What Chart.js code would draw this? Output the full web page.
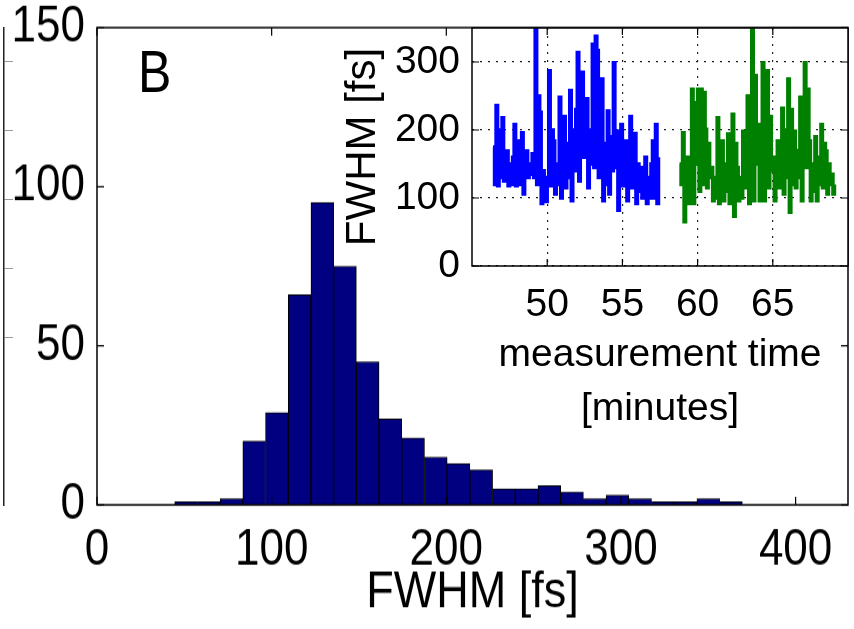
<!DOCTYPE html>
<html>
<head>
<meta charset="utf-8">
<script src="https://cdn.jsdelivr.net/npm/chart.js@4.4.1/dist/chart.umd.min.js"></script>
<style>
  html, body { margin: 0; padding: 0; background: #fff; }
  #wrap { position: relative; width: 854px; height: 629px; overflow: hidden; background: #fff; }
  canvas { position: absolute; }
  /* the main axes use a tall, narrow lettering: draw on a shorter canvas and stretch it */
  #hist { left: 0; top: 0; transform: scaleY(1.15); transform-origin: 0 0; }
  #panel-label { position: absolute; left: 138px; top: 42px; font-size: 50px; line-height: 50px;
    font-family: 'Liberation Sans', Arial, sans-serif; color: #000;
    transform: scaleY(1.2); transform-origin: 0 0; }
</style>
</head>
<body>
<div id="wrap">
  <canvas id="edge" width="24" height="629" style="left:0;top:0"></canvas>
  <canvas id="hist" width="854" height="547"></canvas>
  <canvas id="inset" width="524" height="450" style="left:330px;top:0"></canvas>
  <div id="panel-label">B</div>
</div>
<script>
// --- histogram (main panel) ---
const histCenters = [51, 64, 77, 90, 103, 116, 129, 142, 155, 168, 181, 194, 207,
                     220, 233, 246, 259, 272, 285, 298, 311, 324, 337, 350, 363];
const histCounts  = [1, 1, 2, 20, 29, 66, 95, 75, 45, 27, 21, 15, 13,
                     11, 5, 5, 6, 4, 2, 3, 2, 1, 1, 2, 1];
const histXTicks = [0, 100, 200, 300, 400];
const histYTicks = [0, 50, 100, 150];

// --- inset: FWHM vs measurement time ---
const sampleStep = 0.1;   // minutes between measurements
const blueStart = 46.4;
const blueFwhm = [175, 120, 236, 118, 200, 130, 218, 125, 160, 169, 118, 150, 120, 160,
  208, 118, 184, 120, 150, 196, 106, 140, 169, 130, 150, 135, 165, 130, 348, 120, 250,
  226, 92, 140, 130, 95, 120, 287, 118, 200, 184, 106, 150, 120, 248, 100, 160,
  220, 115, 180, 130, 258, 96, 200, 140, 230, 314, 125, 260, 285, 160, 220,
  246, 115, 200, 150, 326, 145, 338, 317, 130, 250, 275, 96, 180, 120,
  228, 106, 190, 140, 299, 145, 198, 82, 150, 208, 118, 170, 184, 96, 140,
  220, 115, 160, 195, 92, 150, 110, 145, 100, 130, 160, 92, 130, 100, 150,
  184, 100, 208, 92, 160];
const greenStart = 58.8;
const greenFwhm = [150, 120, 196, 65, 140, 160, 92, 130, 260, 92, 240, 150,
  260, 110, 260, 120, 255, 201, 115, 180, 130, 145, 96, 130, 100, 218, 92, 170,
  184, 96, 150, 110, 194, 92, 160, 223, 73, 180, 145, 96, 130, 100, 198, 115, 170,
  250, 92, 220, 348, 96, 280, 150, 208, 96, 170, 299, 96, 250, 287, 115, 220, 140,
  160, 96, 130, 184, 115, 160, 232, 106, 200, 130, 275, 79, 230, 120,
  198, 115, 170, 130, 248, 96, 200, 299, 145, 260, 184, 96, 150, 110,
  190, 96, 160, 120, 208, 115, 180, 169, 106, 150, 120, 135, 106, 120];
const insetXTicks = [50, 55, 60, 65];
const insetYTicks = [0, 100, 200, 300];

// left-edge remnant of the neighbouring panel
const edgeTicks = [1, 2, 3, 4, 5];

const MAIN_FONT = "'Liberation Sans', Arial, sans-serif";
const INSET_FONT = "'Liberation Sans', Arial, sans-serif";

// box around the plot area + matlab style inward ticks
const boxTicks = {
  id: 'boxTicks',
  beforeDraw(chart, args, opts) {
    if (!opts.fill) return;
    const a = chart.chartArea, ctx = chart.ctx;
    ctx.save();
    ctx.fillStyle = opts.fill;
    ctx.fillRect(a.left, a.top, a.right - a.left, a.bottom - a.top);
    ctx.restore();
  },
  afterDraw(chart, args, opts) {
    const a = chart.chartArea, ctx = chart.ctx;
    const len = opts.tickLen || 8;
    ctx.save();
    ctx.strokeStyle = '#000';
    ctx.lineWidth = 1.5;
    ctx.strokeRect(a.left, a.top, a.right - a.left, a.bottom - a.top);
    ctx.lineWidth = 1.2;
    ctx.beginPath();
    const xs = chart.scales.x, ys = chart.scales.y;
    xs.ticks.forEach(t => {
      const px = xs.getPixelForValue(t.value);
      ctx.moveTo(px, a.bottom); ctx.lineTo(px, a.bottom - len);
      ctx.moveTo(px, a.top); ctx.lineTo(px, a.top + len);
    });
    ys.ticks.forEach(t => {
      const py = ys.getPixelForValue(t.value);
      ctx.moveTo(a.left, py); ctx.lineTo(a.left + len, py);
      ctx.moveTo(a.right, py); ctx.lineTo(a.right - len, py);
    });
    ctx.stroke();
    ctx.restore();
  }
};

const setTicks = list => scale => { scale.ticks = list.map(v => ({ value: v })); };
// fixed axis size, and no extra room reserved for the end labels
const fixSize = (w, h) => s => {
  if (w != null) s.width = w;
  if (h != null) s.height = h;
  s.paddingTop = 0; s.paddingBottom = 0; s.paddingLeft = 0; s.paddingRight = 0;
};

// --- main histogram (canvas is 547 tall, stretched x1.15 to 629) ---
new Chart(document.getElementById('hist'), {
  type: 'bar',
  data: {
    datasets: [{
      data: histCenters.map((c, i) => ({ x: c, y: histCounts[i] })),
      backgroundColor: '#000080',
      borderColor: '#000000',
      borderWidth: 1,
      barPercentage: 1,
      categoryPercentage: 1
    }]
  },
  options: {
    responsive: false, animation: false, events: [],
    layout: { padding: { top: 24, right: 6, left: 0, bottom: 0 } },
    plugins: { legend: { display: false }, tooltip: { enabled: false }, boxTicks: { tickLen: 7 } },
    scales: {
      x: {
        type: 'linear', min: 0, max: 430, offset: false,
        grid: { display: false, drawTicks: false, offset: false },
        border: { display: false },
        afterBuildTicks: setTicks(histXTicks),
        afterFit: fixSize(null, 108),
        ticks: { font: { family: MAIN_FONT, size: 44 }, color: '#000', padding: 13, maxRotation: 0, autoSkip: false },
        title: { display: true, text: 'FWHM [fs]', color: '#000',
                 font: { family: MAIN_FONT, size: 45 }, padding: { top: 0, bottom: 4 } }
      },
      y: {
        min: 0, max: 150,
        grid: { display: false, drawTicks: false },
        border: { display: false },
        afterBuildTicks: setTicks(histYTicks),
        afterFit: fixSize(97, null),
        ticks: { font: { family: MAIN_FONT, size: 44 }, color: '#000', padding: 12 }
      }
    }
  },
  plugins: [boxTicks]
});

// --- inset time trace ---
new Chart(document.getElementById('inset'), {
  type: 'line',
  data: {
    datasets: [
      { data: blueFwhm.map((v, i) => ({ x: blueStart + i * sampleStep, y: v })),
        borderColor: '#0000ff', borderWidth: 3.5, pointRadius: 0, stepped: true },
      { data: greenFwhm.map((v, i) => ({ x: greenStart + i * sampleStep, y: v })),
        borderColor: '#008000', borderWidth: 3.5, pointRadius: 0, stepped: true }
    ]
  },
  options: {
    responsive: false, animation: false, events: [],
    layout: { padding: { top: 28, right: 6, left: 0, bottom: 0 } },
    plugins: { legend: { display: false }, tooltip: { enabled: false }, boxTicks: { tickLen: 7, fill: '#ffffff' } },
    scales: {
      x: {
        type: 'linear', min: 45, max: 70,
        grid: { color: '#222', lineWidth: 1.2, drawTicks: false },
        border: { display: false, dash: [2, 6] },
        afterBuildTicks: setTicks(insetXTicks),
        afterFit: fixSize(null, 184),
        ticks: { font: { family: INSET_FONT, size: 39 }, color: '#000', padding: 16, maxRotation: 0, autoSkip: false },
        title: { display: true, text: ['measurement time', '[minutes]'], color: '#000',
                 font: { family: INSET_FONT, size: 39, lineHeight: 1.4 }, padding: { top: 0, bottom: 13 } }
      },
      y: {
        min: 0, max: 350,
        grid: { color: '#222', lineWidth: 1.2, drawTicks: false },
        border: { display: false, dash: [2, 6] },
        afterBuildTicks: setTicks(insetYTicks),
        afterFit: fixSize(142, null),
        ticks: { font: { family: INSET_FONT, size: 39 }, color: '#000', padding: 12 },
        title: { display: true, text: 'FWHM [fs]', color: '#000',
                 font: { family: INSET_FONT, size: 42 }, padding: { top: 8, bottom: 0 } }
      }
    }
  },
  plugins: [boxTicks]
});

// --- neighbouring panel's right border peeking in at the left edge ---
new Chart(document.getElementById('edge'), {
  type: 'line',
  data: { datasets: [] },
  options: {
    responsive: false, animation: false, events: [],
    layout: { padding: { top: 28, bottom: 124, left: 0, right: 0 } },
    plugins: { legend: { display: false }, tooltip: { enabled: false } },
    scales: {
      x: { display: false },
      y: {
        position: 'right', min: -1.42, max: 5.49,
        afterBuildTicks: setTicks(edgeTicks),
        afterFit: fixSize(20, null),
        ticks: { display: false },
        grid: { drawOnChartArea: false, drawTicks: true, tickLength: 9, color: '#999' },
        border: { display: true, color: '#222', width: 1.5 }
      }
    }
  }
});
</script>
</body>
</html>
